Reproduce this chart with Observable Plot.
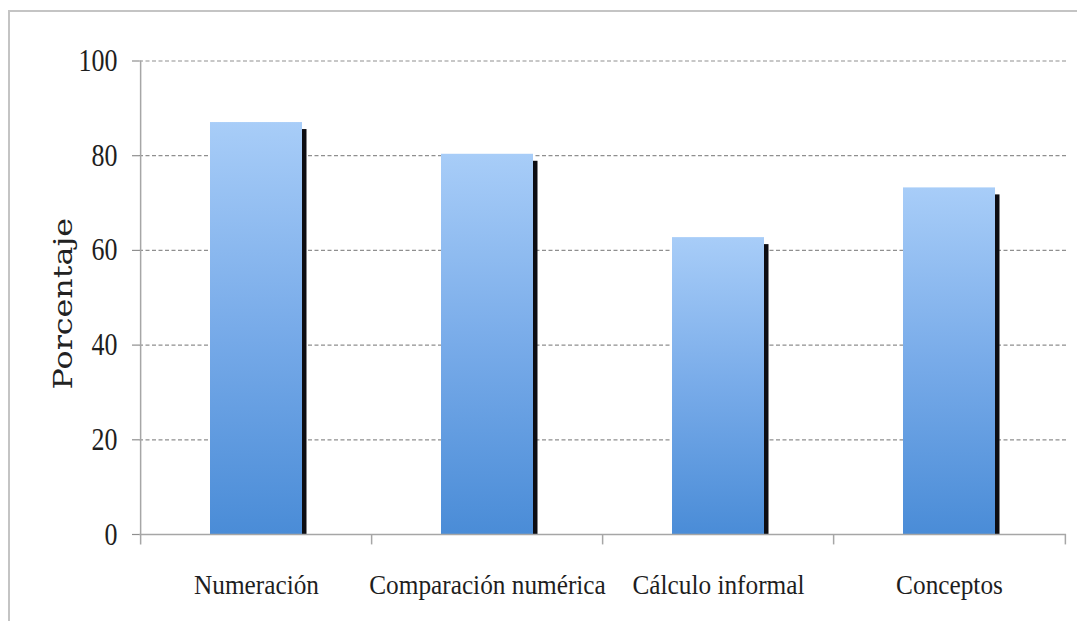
<!DOCTYPE html>
<html>
<head>
<meta charset="utf-8">
<script src="https://cdn.jsdelivr.net/npm/d3@7"></script>
<script src="https://cdn.jsdelivr.net/npm/@observablehq/plot@0.6"></script>
<style>
  html, body { margin: 0; padding: 0; background: #fff; }
  #wrap { position: relative; width: 1077px; height: 621px; overflow: hidden; }
  #border { position: absolute; left: 8px; top: 10px; right: -10px; bottom: -10px;
            border-left: 2px solid #c4c4c4; border-top: 2px solid #c4c4c4; }
  #chart { position: absolute; left: 0; top: 0; }
</style>
</head>
<body>
<div id="wrap"><div id="border"></div><div id="chart"></div></div>
<script>
const categories = ["Numeración", "Comparación numérica", "Cálculo informal", "Conceptos"];
const values = [87.0, 80.3, 62.7, 73.2];
const yTicks = [0, 20, 40, 60, 80, 100];
const yLabel = "Porcentaje";

const data = categories.map((c, i) => ({categoria: c, porcentaje: values[i]}));

const W = 1077, H = 621, ML = 139, MR = 11, MT = 60.5, MB = 87;
const step = (W - ML - MR) / categories.length;
const axisColor = "#a6a6a6";
const gridColor = "#8f8f8f";

const plot = Plot.plot({
  width: W,
  height: H,
  marginLeft: ML,
  marginRight: MR,
  marginTop: MT,
  marginBottom: MB,
  style: {fontFamily: "'Liberation Serif', serif", fontSize: "26px", color: "#222", background: "transparent", overflow: "visible"},
  x: {domain: categories, paddingInner: 0.6, paddingOuter: 0.3, label: null},
  y: {domain: [0, 100], label: null},
  marks: [
    Plot.gridY(yTicks.filter(t => t > 0), {stroke: gridColor, strokeOpacity: 1, strokeWidth: 1.2, strokeDasharray: "4,2.5"}),
    Plot.axisY(yTicks, {tickSize: 7, tickPadding: 15, stroke: gridColor, strokeWidth: 1.2, fontSize: 26, fill: "#1e1e1e", label: null}),
    Plot.axisX({tickSize: 0, tickPadding: 41, fontSize: 25.3, fill: "#1e1e1e", label: null}),
    Plot.barY(data, {x: "categoria", y: "porcentaje", fill: "#0d0d12", dx: 4.5, insetTop: 7}),
    Plot.barY(data, {x: "categoria", y: "porcentaje", fill: "url(#barGrad)"}),
    Plot.ruleY([0], {stroke: axisColor, strokeWidth: 1.5}),
    Plot.ruleX([categories[0]], {x: d => d, dx: -step / 2, y1: -2.2, y2: 100, stroke: axisColor, strokeWidth: 1.5}),
    Plot.ruleX(categories.slice(1), {x: d => d, dx: -step / 2, y1: 0, y2: -2.2, stroke: axisColor, strokeWidth: 1.5}),
    Plot.ruleX([categories[categories.length - 1]], {x: d => d, dx: step / 2, y1: 0, y2: -2.2, stroke: axisColor, strokeWidth: 1.5}),
    Plot.text([yLabel], {text: d => d, frameAnchor: "left", dx: -76, dy: 6, rotate: -90, textAnchor: "middle", lineAnchor: "middle", fontSize: 26, fontFamily: "'DejaVu Serif', serif", fill: "#222"})
  ]
});

// gradient definition for the bars
const ns = "http://www.w3.org/2000/svg";
const defs = document.createElementNS(ns, "defs");
const grad = document.createElementNS(ns, "linearGradient");
grad.setAttribute("id", "barGrad");
grad.setAttribute("x1", "0"); grad.setAttribute("y1", "0");
grad.setAttribute("x2", "0"); grad.setAttribute("y2", "1");
[["0%", "#a8cdf8"], ["50%", "#78abe9"], ["100%", "#4a8cd7"]].forEach(([o, c]) => {
  const s = document.createElementNS(ns, "stop");
  s.setAttribute("offset", o);
  s.setAttribute("stop-color", c);
  grad.appendChild(s);
});
defs.appendChild(grad);
plot.insertBefore(defs, plot.firstChild);

document.getElementById("chart").appendChild(plot);

// the reference's lettering is vertically elongated: stretch each text about its centre
function stretchY(textEl, s) {
  const g = document.createElementNS(ns, "g");
  textEl.parentNode.insertBefore(g, textEl);
  g.appendChild(textEl);
  const b = g.getBBox();
  const cx = b.x + b.width / 2, cy = b.y + b.height / 2;
  g.setAttribute("transform", `translate(${cx},${cy}) scale(1,${s}) translate(${-cx},${-cy})`);
}
const allTexts = Array.from(plot.querySelectorAll("text"));
allTexts.forEach(t => {
  const txt = t.textContent;
  if (txt === yLabel) stretchY(t, 1.22);
  else if (categories.includes(txt)) stretchY(t, 1.1);
  else if (yTicks.map(String).includes(txt)) stretchY(t, 1.2);
});
</script>
</body>
</html>
